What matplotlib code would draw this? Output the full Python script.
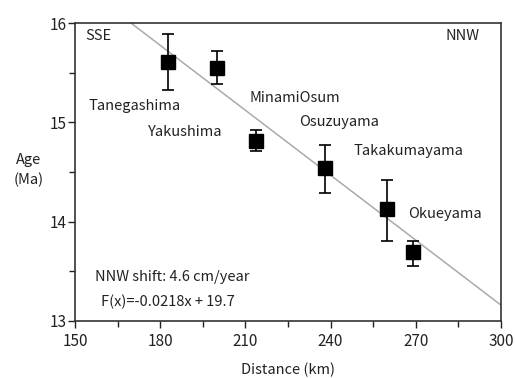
import numpy as np
import matplotlib
matplotlib.use("Agg")
import matplotlib.pyplot as plt

plt.rcParams['font.family'] = ['Noto Sans CJK JP', 'DejaVu Sans']

# site data
sites = ['Tanegashima', 'Yakushima', 'MinamiOsum', 'Osuzuyama', 'Takakumayama', 'Okueyama']
dist_km = [182.7, 200.0, 213.7, 238.0, 259.9, 268.9]
age_ma = [15.61, 15.55, 14.81, 14.54, 14.13, 13.69]
err_lo = [0.28, 0.16, 0.10, 0.25, 0.32, 0.14]
err_hi = [0.28, 0.17, 0.11, 0.23, 0.29, 0.12]

# label positions (data coords)
lab_x = [154.6, 175.7, 211.6, 228.9, 248.2, 267.3]
lab_y = [15.16, 14.90, 15.245, 15.00, 14.71, 14.08]

# fit line
slope = -0.0218
icept = 19.7

fig = plt.figure(figsize=(5.15, 3.78), dpi=100)
ax = fig.add_axes([0.1456, 0.1508, 0.8272, 0.7882])

xx = np.array([150, 300])
ax.plot(xx, slope * xx + icept, color='#aaaaaa', lw=1.1, zorder=1)

ax.errorbar(dist_km, age_ma, yerr=[err_lo, err_hi], fmt='s', color='black',
            ms=10.5, capsize=4, elinewidth=1.2, capthick=1.2, zorder=3)

fs = 10.5
for s, x, y in zip(sites, lab_x, lab_y):
    ax.text(x, y, s, fontsize=fs, color='#222222', va='center')

ax.text(153.5, 15.87, 'SSE', fontsize=fs, color='#222222', va='center')
ax.text(280.3, 15.87, 'NNW', fontsize=fs, color='#222222', va='center')
ax.text(157.0, 13.44, 'NNW shift: 4.6 cm/year', fontsize=fs, color='#222222', va='center')
ax.text(159.2, 13.19, 'F(x)=-0.0218x + 19.7', fontsize=fs, color='#222222', va='center')

ax.set_xlim(150, 300)
ax.set_ylim(13, 16)
ax.set_xticks([150, 180, 210, 240, 270, 300])
ax.set_xticks([165, 195, 225, 255, 285], minor=True)
ax.set_yticks([13, 14, 15, 16])
ax.set_yticks([13.5, 14.5, 15.5], minor=True)
ax.tick_params(axis='both', which='both', direction='out', labelsize=11,
               colors='#222222', width=1)
ax.tick_params(which='major', length=5)
ax.tick_params(which='minor', length=4)
ax.tick_params(axis='y', pad=1)
for sp in ax.spines.values():
    sp.set_color('#333333')
    sp.set_linewidth(1.2)

ax.set_xlabel('Distance (km)', fontsize=fs, color='#222222', labelpad=9)
fig.text(0.055, 0.55, 'Age\n(Ma)', fontsize=fs, color='#222222', ha='center', va='center', linespacing=1.5)

fig.savefig('out.png', dpi=100)
